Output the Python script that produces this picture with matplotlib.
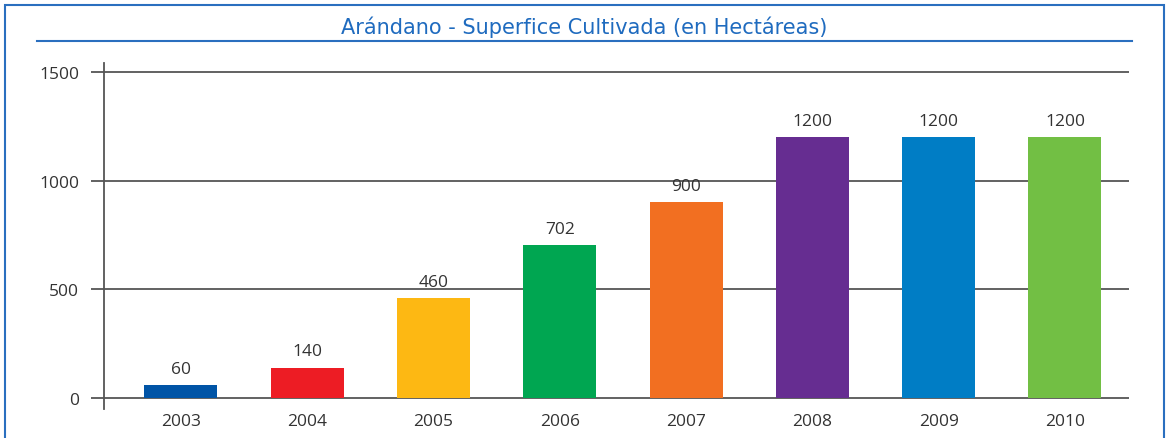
import matplotlib.pyplot as plt
from matplotlib.lines import Line2D
from matplotlib.patches import Rectangle

# Datos
years = ['2003', '2004', '2005', '2006', '2007', '2008', '2009', '2010']
hectareas = [60, 140, 460, 702, 900, 1200, 1200, 1200]
colores = ['#0054A6', '#ED1C24', '#FDB813', '#00A651', '#F26F21',
           '#662D91', '#007DC5', '#72BF44']
y_ticks = [0, 500, 1000, 1500]
titulo = "Arándano - Superfice Cultivada (en Hectáreas)"

plt.rcParams['font.family'] = ['Open Sans', 'DejaVu Sans']

W, H = 1169, 439
fig = plt.figure(figsize=(W / 100, H / 100), dpi=100)

# Ejes: posiciones en pixeles de la imagen original
left, right, top, bottom = 91, 1129, 64, 410
ax = fig.add_axes([left / W, (H - bottom) / H, (right - left) / W, (bottom - top) / H])

x = range(len(years))
ax.bar(x, hectareas, width=0.578, color=colores, zorder=3)

for i, v in enumerate(hectareas):
    ax.annotate(str(v), (i, v), xytext=(0, 6), textcoords='offset points',
                ha='center', va='bottom', fontsize=12.5, color='#333333')

for t in y_ticks:
    ax.axhline(t, color='#555555', lw=1.3, zorder=2)

ax.set_xlim(-0.7126, 7.507)
ax.set_ylim(-50, 1541)
ax.set_yticks(y_ticks)
ax.set_xticks(list(x))
ax.set_xticklabels(years)
ax.tick_params(axis='both', length=0, labelsize=12.5, colors='#333333')
ax.tick_params(axis='y', pad=18)
ax.tick_params(axis='x', pad=3)

for s in ['top', 'right', 'bottom']:
    ax.spines[s].set_visible(False)
ax.spines['left'].set_position(('data', -0.61))
ax.spines['left'].set_color('#555555')
ax.spines['left'].set_linewidth(1.3)

# Titulo y linea azul debajo
fig.text(0.5, (H - 27) / H, titulo, ha='center', va='center',
         fontsize=15, color='#1F6BBF', family='DejaVu Sans')
fig.add_artist(Line2D([37 / W, 1132 / W], [(H - 42) / H] * 2,
                      color='#2A6FBF', lw=1.5))

# Marco azul
fig.add_artist(Rectangle((5 / W, -0.1), (1164 - 5) / W, (H - 6) / H + 0.1,
                         fill=False, edgecolor='#2A6FBF', lw=1.5,
                         transform=fig.transFigure))

plt.savefig('out.png', dpi=100)
